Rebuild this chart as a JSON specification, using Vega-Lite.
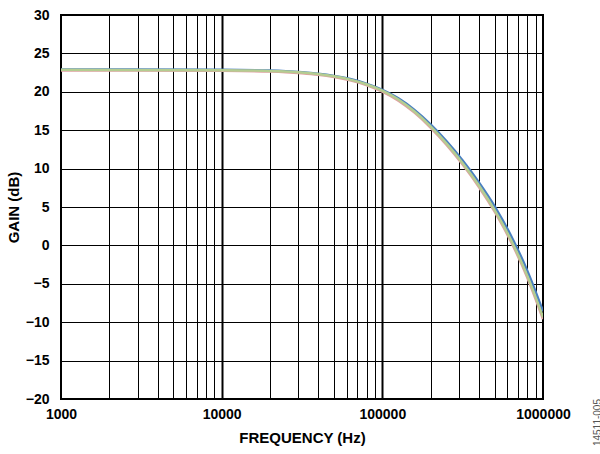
{
  "$schema": "https://vega.github.io/schema/vega-lite/v6.json",
  "width": 482,
  "height": 384,
  "autosize": "none",
  "padding": {"left": 61, "top": 15, "right": 57, "bottom": 55},
  "background": "white",
  "title": {
    "text": "14511-005",
    "orient": "right",
    "frame": "group",
    "anchor": "end",
    "align": "right",
    "baseline": "top",
    "angle": -90,
    "offset": 13,
    "fontSize": 10,
    "fontWeight": "normal",
    "font": "Liberation Sans",
    "color": "#555555"
  },
  "config": {
    "view": {"stroke": "black", "strokeWidth": 2},
    "axis": {
      "domain": false,
      "ticks": false,
      "grid": true,
      "gridColor": "black",
      "gridOpacity": 1,
      "labelFont": "Liberation Sans",
      "labelFontWeight": "bold",
      "labelFontSize": 14,
      "labelColor": "black",
      "titleFont": "Liberation Sans",
      "titleFontWeight": "bold",
      "titleFontSize": 15,
      "titleColor": "black"
    }
  },
  "data": {
    "values": [
      {"f": 1000, "gain": 22.91, "s": "1"},
      {"f": 10000, "gain": 22.86, "s": "1"},
      {"f": 19953, "gain": 22.77, "s": "1"},
      {"f": 25119, "gain": 22.69, "s": "1"},
      {"f": 31623, "gain": 22.56, "s": "1"},
      {"f": 39811, "gain": 22.36, "s": "1"},
      {"f": 50119, "gain": 22.07, "s": "1"},
      {"f": 63096, "gain": 21.66, "s": "1"},
      {"f": 79433, "gain": 21.07, "s": "1"},
      {"f": 100000, "gain": 20.25, "s": "1"},
      {"f": 125893, "gain": 19.14, "s": "1"},
      {"f": 158489, "gain": 17.64, "s": "1"},
      {"f": 199526, "gain": 15.76, "s": "1"},
      {"f": 251189, "gain": 13.56, "s": "1"},
      {"f": 316228, "gain": 11.06, "s": "1"},
      {"f": 398107, "gain": 8.24, "s": "1"},
      {"f": 501187, "gain": 5.06, "s": "1"},
      {"f": 630957, "gain": 1.29, "s": "1"},
      {"f": 794328, "gain": -3.19, "s": "1"},
      {"f": 1000000, "gain": -8.59, "s": "1"},
      {"f": 1000, "gain": 22.78, "s": "2"},
      {"f": 10000, "gain": 22.73, "s": "2"},
      {"f": 19953, "gain": 22.64, "s": "2"},
      {"f": 25119, "gain": 22.56, "s": "2"},
      {"f": 31623, "gain": 22.42, "s": "2"},
      {"f": 39811, "gain": 22.22, "s": "2"},
      {"f": 50119, "gain": 21.92, "s": "2"},
      {"f": 63096, "gain": 21.5, "s": "2"},
      {"f": 79433, "gain": 20.89, "s": "2"},
      {"f": 100000, "gain": 20.03, "s": "2"},
      {"f": 125893, "gain": 18.85, "s": "2"},
      {"f": 158489, "gain": 17.29, "s": "2"},
      {"f": 199526, "gain": 15.35, "s": "2"},
      {"f": 251189, "gain": 13.09, "s": "2"},
      {"f": 316228, "gain": 10.53, "s": "2"},
      {"f": 398107, "gain": 7.64, "s": "2"},
      {"f": 501187, "gain": 4.35, "s": "2"},
      {"f": 630957, "gain": 0.51, "s": "2"},
      {"f": 794328, "gain": -4.07, "s": "2"},
      {"f": 1000000, "gain": -9.6, "s": "2"},
      {"f": 1000, "gain": 22.86, "s": "3"},
      {"f": 10000, "gain": 22.81, "s": "3"},
      {"f": 19953, "gain": 22.72, "s": "3"},
      {"f": 25119, "gain": 22.64, "s": "3"},
      {"f": 31623, "gain": 22.51, "s": "3"},
      {"f": 39811, "gain": 22.31, "s": "3"},
      {"f": 50119, "gain": 22.02, "s": "3"},
      {"f": 63096, "gain": 21.59, "s": "3"},
      {"f": 79433, "gain": 20.99, "s": "3"},
      {"f": 100000, "gain": 20.15, "s": "3"},
      {"f": 125893, "gain": 18.99, "s": "3"},
      {"f": 158489, "gain": 17.44, "s": "3"},
      {"f": 199526, "gain": 15.51, "s": "3"},
      {"f": 251189, "gain": 13.26, "s": "3"},
      {"f": 316228, "gain": 10.71, "s": "3"},
      {"f": 398107, "gain": 7.84, "s": "3"},
      {"f": 501187, "gain": 4.56, "s": "3"},
      {"f": 630957, "gain": 0.74, "s": "3"},
      {"f": 794328, "gain": -3.84, "s": "3"},
      {"f": 1000000, "gain": -9.34, "s": "3"}
    ]
  },
  "mark": {"type": "line", "interpolate": "monotone", "clip": true},
  "encoding": {
    "x": {
      "field": "f",
      "type": "quantitative",
      "scale": {"type": "log", "domain": [1000, 1000000], "nice": false},
      "axis": {
        "title": "FREQUENCY (Hz)",
        "values": [1000, 2000, 3000, 4000, 5000, 6000, 7000, 8000, 9000, 10000, 20000, 30000, 40000, 50000, 60000, 70000, 80000, 90000, 100000, 200000, 300000, 400000, 500000, 600000, 700000, 800000, 900000, 1000000],
        "format": "d",
        "labelExpr": "indexof(['1000','10000','100000','1000000'], datum.label) >= 0 ? datum.label : ''",
        "labelPadding": 8,
        "labelFlush": false,
        "labelOverlap": false,
        "titleBaseline": "middle",
        "titleY": 38,
        "gridWidth": {"condition": {"test": "datum.value == 10000 || datum.value == 100000", "value": 2}, "value": 1}
      }
    },
    "y": {
      "field": "gain",
      "type": "quantitative",
      "scale": {"domain": [-20, 30], "nice": false},
      "axis": {
        "title": "GAIN (dB)",
        "values": [-20, -15, -10, -5, 0, 5, 10, 15, 20, 25, 30],
        "labelExpr": "replace(datum.label, '-', '−')",
        "labelPadding": 12,
        "labelFlush": false,
        "titleBaseline": "middle",
        "titleX": -48,
        "gridWidth": 1
      }
    },
    "color": {
      "field": "s",
      "type": "nominal",
      "scale": {"domain": ["1", "2", "3"], "range": ["#4a80c0", "#e0a0a0", "#b4cd91"]},
      "legend": null
    },
    "strokeWidth": {
      "field": "s",
      "type": "nominal",
      "scale": {"domain": ["1", "2", "3"], "range": [2.5, 2.5, 3.2]},
      "legend": null
    }
  }
}
